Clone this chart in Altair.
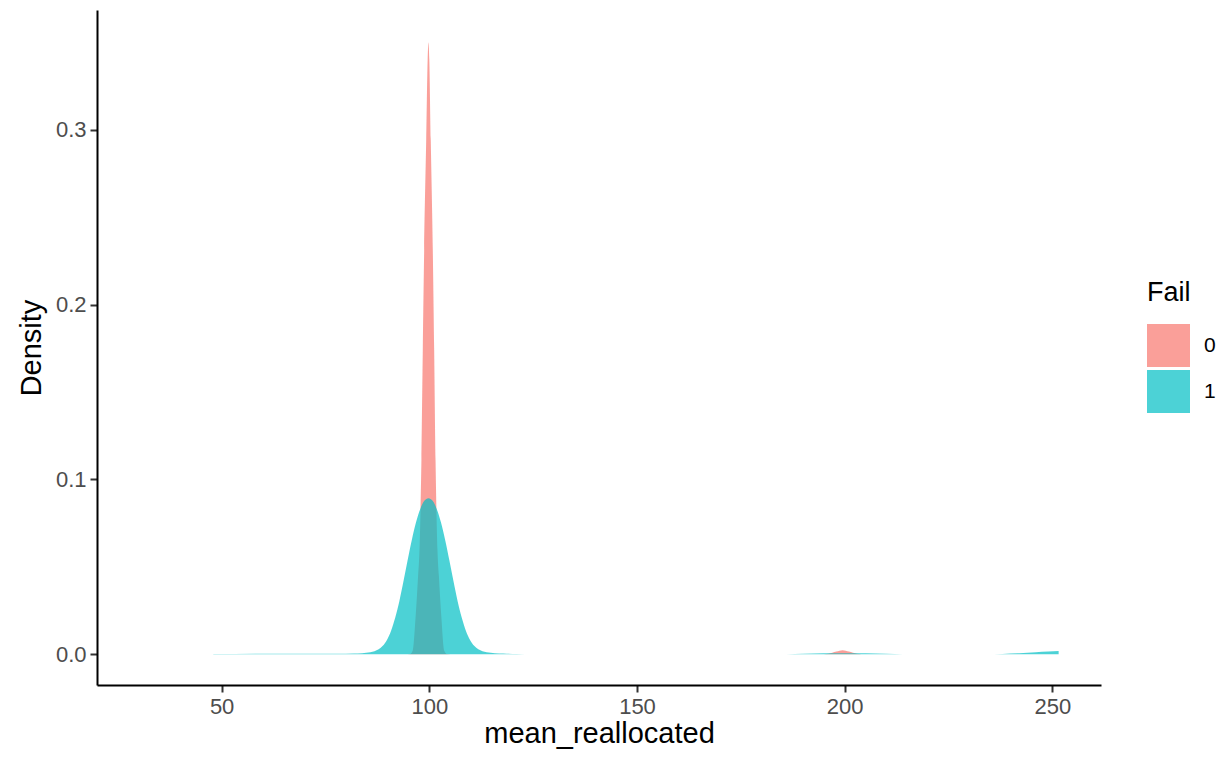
import altair as alt
import pandas as pd

# Density curve for Fail = 0
x0 = [20.5, 94.0, 95.4, 96.0, 96.7, 97.3, 97.63, 98.1, 98.43, 98.76, 99.25, 99.6, 99.8,
      100.0, 100.35, 100.84, 101.17, 101.5, 101.97, 102.3, 102.9, 103.6, 104.2, 106.0,
      194.0, 196.0, 198.0, 199.5, 201.0, 203.0, 205.0, 251.5]
y0 = [0.0, 0.0, 0.0002, 0.002, 0.0214, 0.045, 0.0595, 0.111, 0.174, 0.231, 0.294, 0.34, 0.350,
      0.34, 0.294, 0.231, 0.174, 0.111, 0.0595, 0.045, 0.0214, 0.002, 0.0002, 0.0,
      0.0, 0.0003, 0.0015, 0.0023, 0.0015, 0.0003, 0.0, 0.0]

# Density curve for Fail = 1
x1 = [48.0, 60.0, 70.0, 78.0, 81.8, 83.8, 85.8, 86.8, 87.8, 88.8, 89.8, 90.8, 91.8, 92.8,
      93.8, 94.8, 95.8, 96.8, 97.8, 98.8, 99.8, 100.8, 101.8, 102.8, 103.8, 104.8, 105.8,
      106.8, 107.8, 108.8, 109.8, 110.8, 111.8, 112.8, 113.8, 115.8, 117.8, 121.0, 125.0,
      186.0, 190.0, 200.0, 210.0, 214.0, 234.0, 238.0, 242.0, 246.0, 249.0, 251.5]
y1 = [0.0001, 0.0003, 0.0003, 0.0003, 0.0004, 0.0006, 0.0011, 0.0017, 0.0028, 0.0048, 0.0082, 0.0135, 0.0210, 0.0305,
      0.0420, 0.0540, 0.0655, 0.0755, 0.0830, 0.0878, 0.0893, 0.0878, 0.0830, 0.0755, 0.0655, 0.0540, 0.0420,
      0.0305, 0.0210, 0.0135, 0.0082, 0.0048, 0.0028, 0.0017, 0.0011, 0.0006, 0.0004, 0.0001, 0.0,
      0.0, 0.0003, 0.0005, 0.0003, 0.0, 0.0, 0.0002, 0.0006, 0.0011, 0.0015, 0.0019]

groups = ["0", "1"]
colors = ["#F8766D", "#00BFC4"]
x_ticks = [50, 100, 150, 200, 250]
y_ticks = [0.0, 0.1, 0.2, 0.3]

df0 = pd.DataFrame({"mean_reallocated": x0, "density": y0, "Fail": groups[0]})
df1 = pd.DataFrame({"mean_reallocated": x1, "density": y1, "Fail": groups[1]})

FONT = "Liberation Sans"

xs = alt.Scale(domain=[20.0, 261.7], nice=False, zero=False)
ys = alt.Scale(domain=[-0.0176, 0.3686], nice=False, zero=False)
cs = alt.Scale(domain=groups, range=colors)


def layer(df):
    return alt.Chart(df).mark_area(opacity=0.7, interpolate="monotone", strokeWidth=0).encode(
        x=alt.X("mean_reallocated:Q", scale=xs,
                axis=alt.Axis(values=x_ticks, title="mean_reallocated",
                              titleBaseline="alphabetic", titleY=57)),
        y=alt.Y("density:Q", scale=ys,
                axis=alt.Axis(values=y_ticks, format=".1f", title="Density")),
        y2=alt.datum(0),
        color=alt.Color("Fail:N", scale=cs,
                        legend=alt.Legend(title="Fail", orient="none", legendX=1050, legendY=270)),
    )


chart = alt.layer(layer(df0), layer(df1)).properties(
    width=1004, height=675,
    autosize=alt.AutoSizeParams(type="none"),
    padding={"left": 89, "top": 2, "right": 116, "bottom": 66},
).configure_view(stroke=None).configure_axis(
    grid=False,
    domainColor="black", domainWidth=2,
    tickColor="#333333", tickWidth=2, tickSize=7,
    labelColor="#4D4D4D", labelFont=FONT, labelFontSize=22, labelPadding=4,
    titleColor="black", titleFont=FONT, titleFontSize=29, titleFontWeight="normal",
).configure_axisY(titlePadding=9).configure_legend(
    titleFont=FONT, titleFontSize=27, titleFontWeight="normal", titleColor="black",
    labelFont=FONT, labelFontSize=21, labelColor="black",
    symbolType="square", symbolSize=1849, symbolStrokeWidth=0, symbolOpacity=0.7,
    rowPadding=3, titlePadding=17, labelOffset=14, padding=0,
)

chart.save("out.html", embed_options={"renderer": "svg", "actions": False})
